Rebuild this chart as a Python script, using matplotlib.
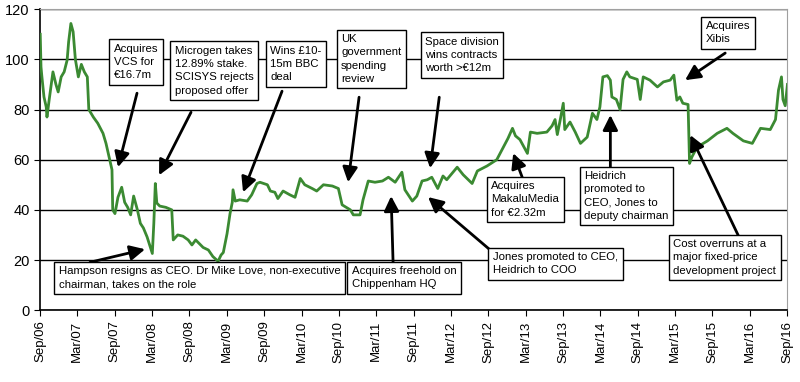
import numpy as np
import matplotlib
matplotlib.use('Agg')
import matplotlib.pyplot as plt

# share price (p); dates as decimal years
years = [2006.67, 2006.68, 2006.69, 2006.72, 2006.75, 2006.76, 2006.79, 2006.84, 2006.88, 2006.91,
         2006.95, 2006.99, 2007.03, 2007.05, 2007.08, 2007.11, 2007.14, 2007.18, 2007.22, 2007.26,
         2007.30, 2007.32, 2007.38, 2007.44, 2007.51, 2007.55, 2007.60, 2007.63, 2007.64, 2007.67,
         2007.71, 2007.76, 2007.80, 2007.84, 2007.88, 2007.92, 2007.97, 2008.01, 2008.05, 2008.10,
         2008.17, 2008.19, 2008.21, 2008.23, 2008.27, 2008.35, 2008.43, 2008.45, 2008.51, 2008.58,
         2008.65, 2008.70, 2008.75, 2008.85, 2008.92, 2008.98, 2009.05, 2009.09, 2009.12, 2009.17,
         2009.21, 2009.24, 2009.25, 2009.28, 2009.34, 2009.44, 2009.50, 2009.57, 2009.61, 2009.71,
         2009.75, 2009.81, 2009.85, 2009.92, 2010.01, 2010.08, 2010.15, 2010.21, 2010.31, 2010.37,
         2010.46, 2010.58, 2010.66, 2010.71, 2010.82, 2010.86, 2010.95, 2010.99, 2011.06, 2011.15,
         2011.25, 2011.33, 2011.42, 2011.51, 2011.55, 2011.65, 2011.71, 2011.78, 2011.85, 2011.91,
         2011.99, 2012.06, 2012.11, 2012.25, 2012.33, 2012.45, 2012.52, 2012.65, 2012.78, 2012.86,
         2012.93, 2012.99, 2013.03, 2013.09, 2013.19, 2013.23, 2013.32, 2013.45, 2013.52, 2013.56,
         2013.59, 2013.63, 2013.67, 2013.69, 2013.76, 2013.83, 2013.90, 2013.99, 2014.06, 2014.12,
         2014.16, 2014.20, 2014.26, 2014.30, 2014.32, 2014.38, 2014.43, 2014.47, 2014.52, 2014.56,
         2014.66, 2014.70, 2014.74, 2014.83, 2014.93, 2015.01, 2015.10, 2015.15, 2015.19, 2015.23,
         2015.27, 2015.34, 2015.36, 2015.39, 2015.46, 2015.60, 2015.73, 2015.86, 2015.94, 2016.08,
         2016.20, 2016.31, 2016.44, 2016.51, 2016.55, 2016.59, 2016.61, 2016.64, 2016.67]
price = [110, 97, 93.7, 85, 81, 77, 84, 95, 90, 87,
         93, 95, 99.7, 107, 114.3, 111, 100, 93, 98, 95,
         93, 80, 77, 74.5, 70.5, 66.5, 60, 56, 40, 38.5,
         45, 49, 43, 41, 38, 45.5, 40, 34.6, 32.8, 29.2,
         22.6, 34.6, 50.5, 42.7, 41.5, 41, 40, 28, 30, 29.5,
         28, 26, 28, 25, 24, 21.4, 19.5, 22, 23, 30.5,
         38.5, 43, 48, 43.5, 44, 43.5, 46, 50.5, 51, 50,
         47.5, 47, 44.5, 47.5, 46, 45, 52.5, 50, 48.5, 47.5,
         50, 49.5, 48.5, 42, 40, 38, 38, 44, 51.5, 51,
         51.5, 53, 51, 55, 48, 43.5, 45.5, 51.5, 52, 53,
         48.5, 53.5, 52, 57, 54, 50.5, 55.5, 57.5, 60, 64.5,
         68.5, 72.5, 69.5, 68, 62.5, 71, 70.5, 71, 73.5, 76,
         70, 76, 82.5, 72, 75, 71, 66.5, 69, 78.5, 76,
         81, 93, 93.5, 91.7, 85, 84, 80, 92, 95, 93,
         92, 84, 93, 91.7, 89, 91, 91.7, 93.7, 83.7, 85,
         82.5, 82, 58.5, 61, 65, 67.5, 70.5, 72.5, 70.5, 67.5,
         66.5, 72.5, 72, 76, 87.7, 93, 84, 81.5, 90]

tick_labels = ['Sep/06', 'Mar/07', 'Sep/07', 'Mar/08', 'Sep/08', 'Mar/09', 'Sep/09',
               'Mar/10', 'Sep/10', 'Mar/11', 'Sep/11', 'Mar/12', 'Sep/12', 'Mar/13',
               'Sep/13', 'Mar/14', 'Sep/14', 'Mar/15', 'Sep/15', 'Mar/16', 'Sep/16']

# (text, text top-left, arrow start, arrow tip)
events = [
    ("Acquires\nVCS for\n\u20ac16.7m", (2007.657, 106.1), (2007.965, 86.5), (2007.711, 57.0)),
    ("Microgen takes\n12.89% stake.\nSCISYS rejects\nproposed offer", (2008.474, 105.3), (2008.688, 78.9), (2008.26, 53.8)),
    ("Wins \u00a310-\n15m BBC\ndeal", (2009.746, 105.3), (2009.906, 87.3), (2009.384, 47.0)),
    ("UK\ngovernment\nspending\nreview", (2010.696, 110.0), (2010.937, 84.9), (2010.79, 51.0)),
    ("Space division\nwins contracts\nworth >\u20ac12m", (2011.821, 108.9), (2012.01, 84.9), (2011.888, 56.6)),
    ("Acquires\nXibis", (2015.58, 115.2), (2015.837, 102.5), (2015.30, 91.7)),
    ("Hampson resigns as CEO. Dr Mike Love, non-executive\nchairman, takes on the role", (2006.921, 17.5), (2007.336, 19.1), (2008.073, 24.3)),
    ("Acquires freehold on\nChippenham HQ", (2010.843, 17.5), (2011.392, 19.1), (2011.366, 45.5)),
    ("Acquires\nMakaluMedia\nfor \u20ac2.32m", (2012.704, 51.4), (2013.12, 53.0), (2013.0, 62.6)),
    ("Heidrich\npromoted to\nCEO, Jones to\ndeputy chairman", (2013.95, 55.4), (2014.30, 57.0), (2014.30, 77.8)),
    ("Jones promoted to CEO,\nHeidrich to COO", (2012.73, 23.1), (2012.68, 24.3), (2011.86, 45.1)),
    ("Cost overruns at a\nmajor fixed-price\ndevelopment project", (2015.14, 28.3), (2016.01, 29.9), (2015.37, 69.8)),
]

plt.rcParams['font.family'] = ['Liberation Sans', 'DejaVu Sans']

fig = plt.figure(figsize=(8, 3.82), dpi=100)
ax = fig.add_axes([0.05, 0.188, 0.934, 0.788])

ax.plot(years, price, color='#3b8a32', lw=2, zorder=3)

ax.set_xlim(2006.6667, 2016.6667)
ax.set_ylim(0, 120)
ax.set_yticks(range(0, 121, 20))
ax.set_xticks([2006.6667 + 0.5 * i for i in range(len(tick_labels))])
ax.set_xticklabels(tick_labels, rotation=90, fontsize=9.5)
ax.tick_params(axis='y', labelsize=10.5, length=4, direction='out')
ax.tick_params(axis='x', length=4, direction='out')
ax.yaxis.grid(True, color='black', lw=1)
ax.set_axisbelow(True)
for s in ['top', 'right']:
    ax.spines[s].set_color('#a0a0a0')
for s in ['left', 'bottom']:
    ax.spines[s].set_color('black')
    ax.spines[s].set_linewidth(1.2)

for txt, pos, start, tip in events:
    ax.annotate('', xy=tip, xytext=start,
                arrowprops=dict(arrowstyle='-|>,head_length=0.9,head_width=0.45',
                                color='black', lw=2, shrinkA=0, shrinkB=0),
                zorder=4, annotation_clip=False)
    ax.text(pos[0], pos[1], txt, ha='left', va='top', fontsize=8.2,
            linespacing=1.4, zorder=5,
            bbox=dict(boxstyle='square,pad=0.4', fc='white', ec='black', lw=1))

fig.savefig('out.png', dpi=100)
